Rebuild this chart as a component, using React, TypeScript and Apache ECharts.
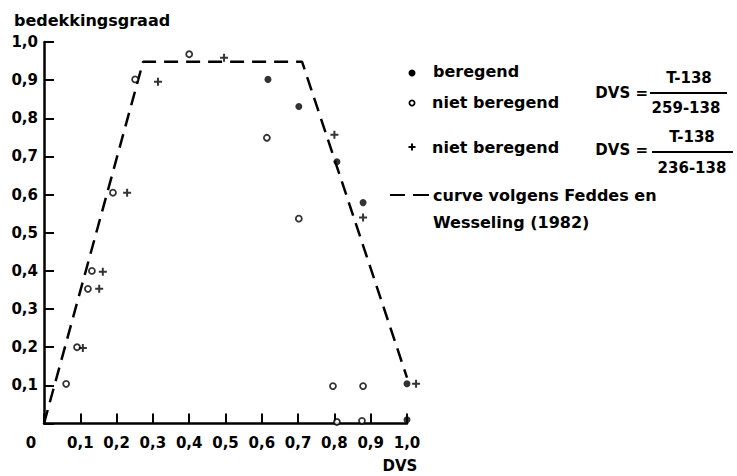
import React, { useEffect, useRef } from "react";
import * as echarts from "echarts";

// Dashed reference curve (Feddes en Wesseling, 1982)
const curvePts: [number, number][] = [
  [0, 0],
  [0.273, 0.948],
  [0.711, 0.948],
  [1.0, 0.12],
];

// beregend (filled dots)
const beregendPts: [number, number][] = [
  [0.617, 0.902],
  [0.702, 0.831],
  [0.807, 0.686],
  [0.879, 0.579],
  [1.0, 0.104],
  [1.0, 0.01],
];

// niet beregend, DVS = (T-138)/(259-138) (open circles)
const nietBeregendAPts: [number, number][] = [
  [0.061, 0.104],
  [0.091, 0.2],
  [0.121, 0.353],
  [0.132, 0.4],
  [0.19, 0.605],
  [0.251, 0.902],
  [0.4, 0.968],
  [0.614, 0.749],
  [0.702, 0.537],
  [0.796, 0.098],
  [0.879, 0.098],
  [0.807, 0.004],
  [0.876, 0.007],
];

// niet beregend, DVS = (T-138)/(236-138) (plus signs)
const nietBeregendBPts: [number, number][] = [
  [0.107, 0.198],
  [0.152, 0.353],
  [0.162, 0.398],
  [0.229, 0.605],
  [0.314, 0.896],
  [0.496, 0.959],
  [0.8, 0.757],
  [0.879, 0.54],
  [1.025, 0.104],
];

const yAxisTitle = "bedekkingsgraad";
const xAxisTitle = "DVS";
const legendLabels = ["beregend", "niet beregend", "niet beregend"];
const curveLabelLines = ["curve volgens Feddes en", "Wesseling (1982)"];
const formulaNumerators = ["T-138", "T-138"];
const formulaDenominators = ["259-138", "236-138"];

const FONT = '"DejaVu Sans", sans-serif';
const BLACK = "#000";
const PLUS = "path://M3,0h2v3h3v2h-3v3h-2v-3h-3v-2h3z";

const fmt = (v: number) => v.toFixed(1).replace(".", ",");

export default function App() {
  const ref = useRef<HTMLDivElement>(null);
  useEffect(() => {
    if (!ref.current) return;
    const chart = echarts.init(ref.current, null, { renderer: "svg" });
    const txt = (
      text: string,
      x: number,
      y: number,
      size: number,
      align: string = "left"
    ) => ({
      type: "text",
      x,
      y,
      silent: true,
      style: {
        text,
        fill: BLACK,
        font: `bold ${size}px ${FONT}`,
        textAlign: align,
        textVerticalAlign: "middle",
      },
    });
    const ln = (x1: number, y1: number, x2: number, y2: number, w = 2) => ({
      type: "line",
      silent: true,
      shape: { x1, y1, x2, y2 },
      style: { stroke: BLACK, lineWidth: w },
    });

    const graphic: any[] = [
      txt(yAxisTitle, 14, 20, 16),
      txt(xAxisTitle, 400, 466, 15, "center"),
      // legend
      { type: "circle", silent: true, shape: { cx: 412, cy: 73, r: 3.5 }, style: { fill: BLACK } },
      txt(legendLabels[0], 433, 71, 16),
      { type: "circle", silent: true, shape: { cx: 412, cy: 103, r: 2.6 }, style: { fill: "#fff", stroke: BLACK, lineWidth: 1.8 } },
      txt(legendLabels[1], 432, 102, 16),
      ln(408.5, 147, 415.5, 147, 2),
      ln(412, 143.5, 412, 150.5, 2),
      txt(legendLabels[2], 432, 147, 16),
      ln(390, 195, 405, 195, 2),
      ln(413, 195, 429, 195, 2),
      txt(curveLabelLines[0], 433, 195, 16),
      txt(curveLabelLines[1], 433, 222, 16),
      // formulas
      txt("DVS =", 648, 93, 15, "right"),
      txt(formulaNumerators[0], 689, 78, 15, "center"),
      ln(650, 93, 727, 93, 1.8),
      txt(formulaDenominators[0], 686, 108, 15, "center"),
      txt("DVS =", 648, 150, 15, "right"),
      txt(formulaNumerators[1], 692, 137, 15, "center"),
      ln(652, 152, 733, 152, 1.8),
      txt(formulaDenominators[1], 692, 168, 15, "center"),
    ];

    const option: any = {
      animation: false,
      backgroundColor: "#fff",
      grid: { left: 44, right: 330, top: 42, bottom: 52.5, containLabel: false },
      xAxis: {
        type: "value",
        min: 0,
        max: 1,
        interval: 0.1,
        splitLine: { show: false },
        axisLine: { show: true, onZero: false, lineStyle: { color: BLACK, width: 2.5 } },
        axisTick: { show: true, inside: true, length: 10, lineStyle: { color: BLACK, width: 2 } },
        axisLabel: {
          color: BLACK,
          fontSize: 15,
          fontWeight: "bold",
          fontFamily: FONT,
          margin: 12,
          formatter: (v: number) => (Math.abs(v) < 1e-9 ? "{z|0}" : fmt(v)),
          rich: {
            z: {
              color: BLACK,
              fontSize: 15,
              fontWeight: "bold",
              fontFamily: FONT,
              padding: [0, 26, 0, 0],
            },
          },
        },
      },
      yAxis: {
        type: "value",
        min: 0,
        max: 1,
        interval: 0.1,
        splitLine: { show: false },
        axisLine: { show: true, onZero: false, lineStyle: { color: BLACK, width: 2.5 } },
        axisTick: { show: true, inside: true, length: 10, lineStyle: { color: BLACK, width: 2 } },
        axisLabel: {
          color: BLACK,
          fontSize: 15,
          fontWeight: "bold",
          fontFamily: FONT,
          margin: 6,
          formatter: (v: number) => (Math.abs(v) < 1e-9 ? "" : fmt(v)),
        },
      },
      series: [
        {
          name: "curve volgens Feddes en Wesseling (1982)",
          type: "line",
          data: curvePts,
          symbol: "none",
          clip: false,
          lineStyle: { color: BLACK, width: 2.5, type: [14, 8] },
          z: 1,
        },
        {
          name: "beregend",
          type: "scatter",
          data: beregendPts,
          symbol: "circle",
          symbolSize: 7,
          clip: false,
          itemStyle: { color: BLACK },
          z: 3,
        },
        {
          name: "niet beregend (259)",
          type: "scatter",
          data: nietBeregendAPts,
          symbol: "circle",
          symbolSize: 6,
          clip: false,
          itemStyle: { color: "#fff", borderColor: BLACK, borderWidth: 1.8 },
          z: 3,
        },
        {
          name: "niet beregend (236)",
          type: "scatter",
          data: nietBeregendBPts,
          symbol: PLUS,
          symbolSize: 8,
          clip: false,
          itemStyle: { color: BLACK },
          z: 3,
        },
      ],
      graphic,
    };
    chart.setOption(option);
    return () => chart.dispose();
  }, []);
  return (
    <div
      ref={ref}
      style={{ position: "absolute", left: 0, top: 0, width: 737, height: 476, background: "#fff" }}
    />
  );
}
